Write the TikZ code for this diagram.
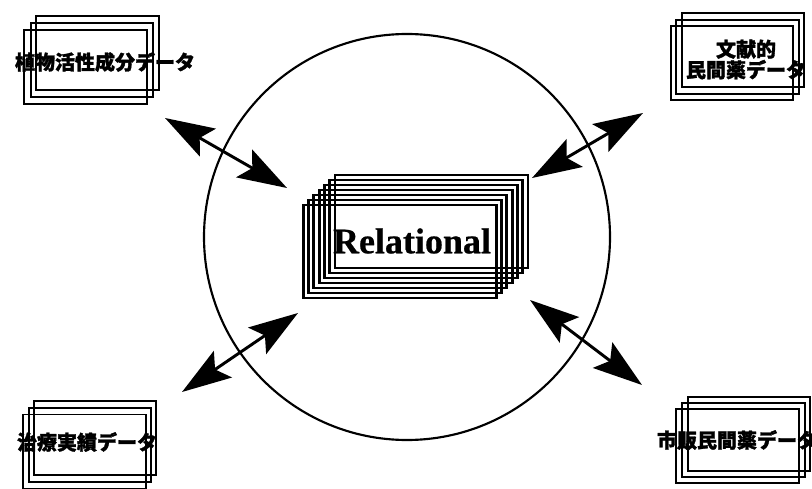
\documentclass[tikz,border=0pt]{standalone}
\usepackage{fontspec}
\newfontfamily\cjk{Noto Sans CJK JP}[BoldFeatures={FakeBold=1.5}]
\newfontfamily\relfont{Liberation Serif}[BoldFeatures={FakeBold=0.6}]
\usetikzlibrary{arrows.meta}
\tikzset{
  card/.style={draw, line width=1.4pt, minimum width=92pt, minimum height=55.5pt, inner sep=0pt, outer sep=0pt},
  layer/.style={draw, line width=2.2pt, minimum width=144.75pt, minimum height=69.75pt, inner sep=0pt, outer sep=0pt},
  cardtext/.style={font=\cjk\bfseries\fontsize{15pt}{16pt}\selectfont, inner sep=0pt, align=center},
  link/.style={line width=2.2pt, {Stealth[length=37pt, width=24pt, inset=7pt]}-{Stealth[length=37pt, width=24pt, inset=7pt]}},
}
\begin{document}
\begin{tikzpicture}[x=0.75pt,y=-0.75pt]
\useasboundingbox (0,0) rectangle (812,488);
\clip (0,0) rectangle (812,488);
% big circle
\node[draw, circle, line width=1.6pt, minimum size=304.5pt, inner sep=0pt] (ring) at (407,237) {};
% relational stack
\foreach \i in {0,...,6}{
  \node[layer] (rel\i) at ({431.5-5.3*\i},{221.5+5*\i}) {};
}
\node[font=\relfont\bfseries\fontsize{27pt}{29pt}\selectfont, inner sep=0pt] (reltext) at (412,241) {Relational};
% top-left card
\node[card] (tlb) at (97.5,53) {};
\node[card] (tlm) at (92,60) {};
\node[card] (tlf) at (85.5,67) {};
\node[cardtext] (tlt) at (105,62) {植物活性成分データ};
% top-right card
\node[card] (trb) at (743,50) {};
\node[card] (trm) at (737.5,57) {};
\node[card] (trf) at (732,63) {};
\node[cardtext, font=\cjk\bfseries\fontsize{15pt}{15.5pt}\selectfont] (trt) at (746,59.5) {文献的\\民間薬データ};
% bottom-left card
\node[card] (blb) at (95,438) {};
\node[card] (blm) at (90,445) {};
\node[card] (blf) at (84.5,451.5) {};
\node[cardtext] (blt) at (87,442) {治療実績データ};
% bottom-right card
\node[card] (brb) at (749,434) {};
\node[card] (brm) at (743.5,440) {};
\node[card] (brf) at (737.5,446) {};
\node[cardtext] (brt) at (737,440) {市販民間薬データ};
% arrow end points
\coordinate (a1s) at (165,118);
\coordinate (a1e) at (287,188);
\coordinate (a2s) at (532,178);
\coordinate (a2e) at (643,113);
\coordinate (a3s) at (298,313);
\coordinate (a3e) at (182,392);
\coordinate (a4s) at (530,300);
\coordinate (a4e) at (642,385);
\draw[link] (a1s) -- (a1e);
\draw[link] (a2s) -- (a2e);
\draw[link] (a3s) -- (a3e);
\draw[link] (a4s) -- (a4e);
\end{tikzpicture}
\end{document}
